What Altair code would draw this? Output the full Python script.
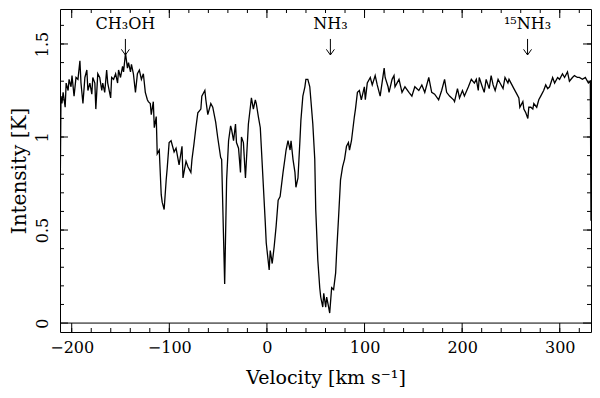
import altair as alt
import pandas as pd

# ---- spectrum (velocity in km/s, intensity in K) ----
velocity = [
    -212.0, -211.0, -210.0, -208.8, -206.7, -205.7, -203.7, -202.7, -200.7, -199.7,
    -197.6, -195.6, -193.6, -191.6, -190.5, -188.5, -186.5, -184.5, -183.4, -181.4,
    -179.4, -178.4, -176.3, -175.3, -173.3, -171.3, -169.2, -168.2, -166.2, -164.2,
    -163.1, -160.1, -159.1, -157.1, -155.0, -153.0, -152.0, -150.0, -147.9, -146.9,
    -144.9, -142.9, -141.8, -139.8, -138.8, -136.8, -134.7, -132.7, -130.7, -128.6,
    -126.6, -124.6, -122.5, -121.5, -119.5, -118.5, -116.4, -115.4, -113.4, -112.4,
    -110.3, -108.3, -107.3, -105.3, -103.2, -102.2, -100.2, -98.2, -95.1, -93.1,
    -90.0, -87.0, -86.0, -82.9, -80.9, -77.9, -76.8, -74.8, -72.8, -70.8,
    -67.7, -66.7, -63.6, -62.6, -60.6, -57.5, -55.5, -52.5, -50.5, -47.4,
    -46.4, -43.3, -41.3, -39.3, -37.2, -36.2, -34.2, -32.2, -31.2, -29.1,
    -27.1, -26.1, -24.1, -22.0, -19.0, -17.0, -15.9, -13.9, -11.9, -10.9,
    -8.8, -6.8, -5.8, -3.8, -1.7, -0.7, 2.3, 3.4, 5.4, 7.4,
    9.4, 11.5, 13.5, 16.5, 18.6, 19.6, 21.6, 23.7, 24.7, 26.7,
    28.7, 29.7, 31.8, 33.8, 34.8, 36.8, 38.9, 39.9, 41.9, 43.9,
    45.0, 47.0, 49.0, 50.0, 52.1, 54.1, 55.1, 57.2, 58.2, 60.2,
    61.2, 63.2, 64.3, 66.3, 68.3, 70.4, 71.4, 73.4, 75.4, 77.5,
    79.5, 81.5, 83.5, 84.6, 86.6, 89.6, 90.7, 92.7, 94.7, 96.7,
    99.8, 100.8, 102.8, 105.9, 107.9, 110.9, 113.0, 116.0, 120.1, 121.1,
    124.1, 125.1, 128.2, 130.2, 131.2, 135.3, 138.4, 141.4, 145.5, 148.5,
    151.5, 155.6, 158.7, 161.7, 165.8, 168.8, 171.8, 175.9, 179.0, 182.0,
    184.1, 187.1, 191.2, 192.2, 195.2, 197.3, 200.3, 202.3, 206.4, 209.4,
    212.5, 214.5, 216.5, 217.5, 220.6, 222.6, 224.6, 227.7, 229.7, 231.7,
    233.8, 236.8, 238.8, 241.9, 243.9, 246.9, 248.0, 251.0, 253.0, 255.1,
    258.1, 259.1, 262.2, 263.2, 265.2, 267.3, 268.3, 270.3, 272.4, 273.4,
    276.4, 278.5, 280.5, 283.5, 285.6, 287.6, 289.6, 292.7, 294.7, 297.8,
    299.8, 302.8, 304.9, 307.9, 309.9, 313.0, 315.0, 318.1, 320.1, 323.2,
    326.2, 329.3, 331.3, 332.0,
]
intensity = [
    0.58, 1.22, 1.18, 1.24, 1.16, 1.29, 1.25, 1.31, 1.27, 1.33,
    1.22, 1.32, 1.31, 1.41, 1.29, 1.18, 1.32, 1.36, 1.25, 1.29,
    1.23, 1.32, 1.29, 1.15, 1.34, 1.32, 1.25, 1.29, 1.24, 1.36,
    1.29, 1.21, 1.32, 1.31, 1.34, 1.29, 1.36, 1.32, 1.38, 1.35,
    1.45, 1.37, 1.40, 1.35, 1.39, 1.34, 1.24, 1.34, 1.36, 1.31,
    1.34, 1.24, 1.20, 1.19, 1.18, 1.12, 1.19, 1.05, 1.11, 0.91,
    0.93, 0.69, 0.65, 0.61, 0.77, 0.83, 0.97, 0.98, 0.92, 0.94,
    0.85, 0.95, 0.78, 0.87, 0.84, 0.81, 0.88, 0.96, 1.05, 1.13,
    1.15, 1.22, 1.25, 1.20, 1.12, 1.18, 1.16, 1.08, 1.00, 0.89,
    0.88, 0.21, 0.77, 0.98, 1.06, 1.04, 0.98, 1.07, 0.97, 0.94,
    0.81, 1.00, 0.97, 0.78, 1.07, 1.16, 1.21, 1.15, 1.20, 1.18,
    1.11, 1.05, 0.95, 0.75, 0.54, 0.43, 0.285, 0.39, 0.32, 0.41,
    0.52, 0.66, 0.68, 0.81, 0.89, 0.93, 0.98, 0.93, 0.98, 0.88,
    0.81, 0.73, 0.78, 0.98, 1.09, 1.22, 1.27, 1.31, 1.31, 1.27,
    1.20, 1.07, 0.88, 0.61, 0.34, 0.19, 0.14, 0.086, 0.16, 0.086,
    0.14, 0.086, 0.054, 0.19, 0.18, 0.27, 0.38, 0.57, 0.77, 0.84,
    0.88, 0.95, 0.97, 0.93, 0.98, 1.11, 1.15, 1.24, 1.25, 1.20,
    1.27, 1.20, 1.29, 1.32, 1.28, 1.33, 1.28, 1.22, 1.37, 1.32,
    1.27, 1.24, 1.31, 1.33, 1.27, 1.31, 1.24, 1.27, 1.24, 1.22,
    1.27, 1.25, 1.28, 1.24, 1.32, 1.24, 1.23, 1.20, 1.25, 1.31,
    1.24, 1.22, 1.20, 1.19, 1.26, 1.21, 1.25, 1.22, 1.27, 1.31,
    1.29, 1.31, 1.25, 1.32, 1.27, 1.24, 1.31, 1.26, 1.33, 1.28,
    1.25, 1.31, 1.29, 1.26, 1.32, 1.29, 1.31, 1.28, 1.26, 1.24,
    1.21, 1.16, 1.19, 1.15, 1.13, 1.10, 1.16, 1.16, 1.15, 1.18,
    1.16, 1.20, 1.22, 1.25, 1.28, 1.26, 1.27, 1.32, 1.29, 1.32,
    1.31, 1.34, 1.32, 1.35, 1.30, 1.32, 1.33, 1.32, 1.32, 1.31,
    1.32, 1.29, 1.30, 0.55,
]

# ---- axis ticks ----
x_major = [-200, -100, 0, 100, 200, 300]
x_minor = [-200, -180, -160, -140, -120, -100, -80, -60, -40, -20, 0, 20, 40, 60,
           80, 100, 120, 140, 160, 180, 200, 220, 240, 260, 280, 300, 320]
y_major = [0, 0.5, 1, 1.5]
y_minor = [0.1, 0.2, 0.3, 0.4, 0.5, 0.6, 0.7, 0.8, 0.9, 1.0, 1.1, 1.2, 1.3, 1.4, 1.5, 1.6]

# ---- line identifications ----
ann_velocity = [-145, 65, 267]
ann_label = ["CH₃OH", "NH₃", "¹⁵NH₃"]

W, H = 531, 323
FONT = "DejaVu Serif"
xs = alt.Scale(domain=[-212, 332], nice=False, zero=False)
ys = alt.Scale(domain=[-0.048, 1.688], nice=False, zero=False)

x_axis = alt.Axis(
    values=x_major, format="d", title="Velocity [km s⁻¹]",
    ticks=False, tickSize=0, domain=False, grid=False, labelFlush=False,
    labelFont=FONT, labelFontSize=16, labelColor="black", labelPadding=7,
    titleFont=FONT, titleFontSize=19, titleFontWeight="normal", titleColor="black",
    titlePadding=13)
y_axis = alt.Axis(
    values=y_major, labelExpr="'' + datum.value", title="Intensity [K]",
    ticks=False, tickSize=0, domain=False, grid=False, labelFlush=False,
    labelAngle=270, labelFont=FONT, labelFontSize=16, labelColor="black",
    labelPadding=10, titleFont=FONT, titleFontSize=20, titleFontWeight="normal",
    titleColor="black", titlePadding=5)

spec = pd.DataFrame({"v": velocity, "I": intensity})

line = alt.Chart(spec).mark_line(color="black", strokeWidth=1.3, clip=True).encode(
    x=alt.X("v:Q", scale=xs, axis=x_axis),
    y=alt.Y("I:Q", scale=ys, axis=y_axis),
)

zero = alt.Chart(pd.DataFrame({"I": [y_major[0]]})).mark_rule(
    color="black", strokeWidth=1).encode(y=alt.Y("I:Q", scale=ys, axis=y_axis))


def xticks(vals, length):
    d = pd.DataFrame({"v": vals})
    base = alt.Chart(d).mark_rule(color="black", strokeWidth=1)
    bottom = base.encode(x=alt.X("v:Q", scale=xs, axis=x_axis),
                         y=alt.value(H), y2=alt.value(H - length))
    top = base.encode(x=alt.X("v:Q", scale=xs, axis=x_axis),
                      y=alt.value(0), y2=alt.value(length))
    return [bottom, top]


def yticks(vals, length):
    d = pd.DataFrame({"I": vals})
    base = alt.Chart(d).mark_rule(color="black", strokeWidth=1)
    left = base.encode(y=alt.Y("I:Q", scale=ys, axis=y_axis),
                       x=alt.value(0), x2=alt.value(length))
    right = base.encode(y=alt.Y("I:Q", scale=ys, axis=y_axis),
                        x=alt.value(W), x2=alt.value(W - length))
    return [left, right]


ann = pd.DataFrame({"v": ann_velocity, "label": ann_label})
ann_text = alt.Chart(ann).mark_text(font=FONT, fontSize=16, color="black",
                                    align="center", baseline="middle").encode(
    x=alt.X("v:Q", scale=xs, axis=x_axis), y=alt.datum(1.607), text="label:N")
ann_shaft = alt.Chart(ann).mark_rule(color="black", strokeWidth=1).encode(
    x=alt.X("v:Q", scale=xs, axis=x_axis), y=alt.datum(1.527), y2=alt.datum(1.441))
ann_head = alt.Chart(ann).mark_point(shape="M-1,-1.4L0,0L1,-1.4", filled=False,
                                     size=64, color="black", strokeWidth=1,
                                     opacity=1).encode(
    x=alt.X("v:Q", scale=xs, axis=x_axis), y=alt.datum(1.441))

layers = [line, zero] + xticks(x_major, 9) + xticks(x_minor, 4) + \
    yticks(y_major, 8) + yticks(y_minor, 4) + [ann_text, ann_shaft, ann_head]

chart = alt.layer(*layers).properties(
    width=W, height=H,
    autosize=alt.AutoSizeParams(type="none"),
    padding={"left": 52, "top": 1, "right": 1, "bottom": 58},
    background="white",
).configure_view(stroke="black", strokeWidth=1)

chart.save("out.html", embed_options={"renderer": "svg", "actions": False})
